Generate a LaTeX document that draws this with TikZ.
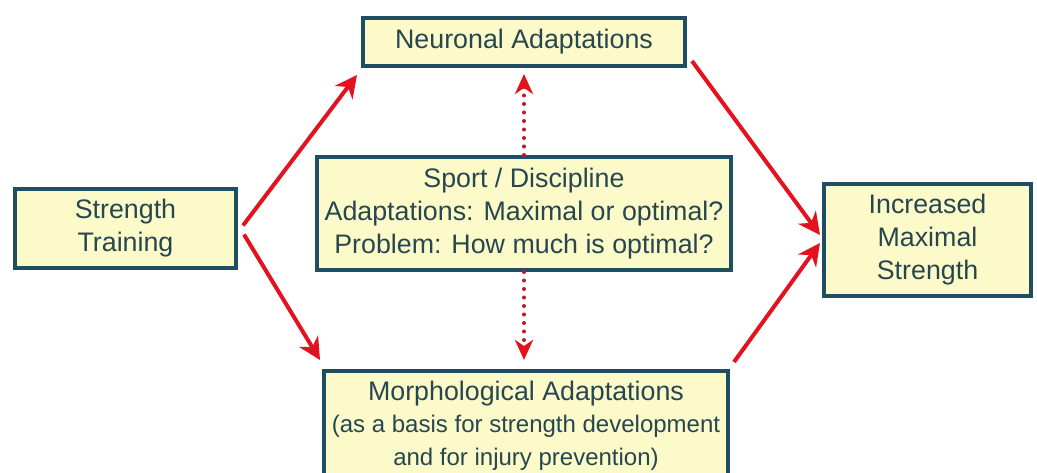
\documentclass[tikz,border=0pt]{standalone}
\usepackage{fontspec}
\setmainfont{Liberation Sans}
\usetikzlibrary{arrows.meta,calc}
\definecolor{boxline}{RGB}{31,78,99}
\definecolor{boxfill}{RGB}{252,250,200}
\definecolor{boxtext}{RGB}{38,70,80}
\definecolor{flowred}{RGB}{228,18,30}
\definecolor{dotred}{RGB}{190,20,45}
\newcommand{\mainfnt}{\fontsize{26.8}{33}\selectfont}
\newcommand{\subfnt}{\fontsize{24}{29}\selectfont}
\tikzset{
  panel/.style={draw=boxline, line width=4pt, fill=boxfill, text=boxtext,
    align=center, font=\mainfnt, inner sep=0pt},
  flow/.style={draw=flowred, line width=4pt,
    -{Stealth[length=22pt,width=22pt,inset=7pt]}},
  link/.style={draw=dotred, line width=4pt, line cap=round,
    dash pattern=on 0pt off 8.5pt,
    -{Stealth[length=20pt,width=18pt,inset=6pt,flowred]}},
}
\begin{document}
\begin{tikzpicture}[x=1pt,y=-1pt]
  \clip (0,0) rectangle (1037,473);
  \fill[white] (0,0) rectangle (1037,473);

  % boxes
  \node[panel, minimum width=221pt, minimum height=79pt] (st) at (125.5,228.5)
    {Strength\\Training};
  \node[panel, minimum width=322pt, minimum height=48pt] (neu) at (524,42)
    {Neuronal Adaptations};
  \node[panel, minimum width=414pt, minimum height=113pt] (cen) at (524,213.5)
    {Sport / Discipline\\Adaptations: Maximal or optimal?\\Problem: How much is optimal?};
  \node[panel, minimum width=404pt, minimum height=110pt] (mor) at (526,426)
    {Morphological Adaptations\\[-1pt]\subfnt (as a basis for strength development\\\subfnt and for injury prevention)};
  \node[panel, minimum width=207pt, minimum height=112pt] (inc) at (927.5,240)
    {Increased\\Maximal\\Strength};

  % main flow
  \draw[flow] ([shift={(5pt,3pt)}]st.east) -- ([shift={(-4pt,-7pt)}]neu.south west);
  \draw[flow] ([shift={(6pt,-6pt)}]st.east) -- ([shift={(-2pt,9pt)}]mor.north west);
  \draw[flow] ([shift={(5pt,7pt)}]neu.south east) -- ([shift={(-2pt,5pt)}]inc.west);
  \draw[flow] ([shift={(4pt,7pt)}]mor.north east) -- ([shift={(-2pt,-3pt)}]inc.west);

  % influence of the sport on both adaptation types
  \draw[link] (cen.north) -- ([yshift=-6pt]cen.north |- neu.south);
  \draw[link] (cen.south) -- ([yshift=9pt]cen.south |- mor.north);
\end{tikzpicture}
\end{document}
